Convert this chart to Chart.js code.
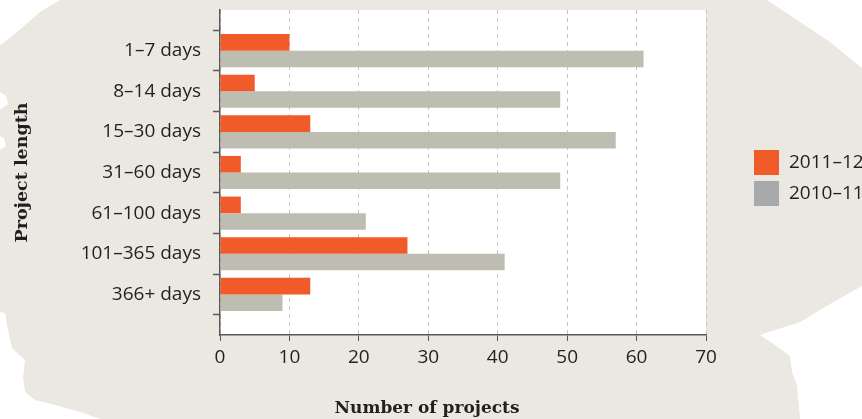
<!DOCTYPE html>
<html>
<head>
<meta charset="utf-8">
<script src="https://cdn.jsdelivr.net/npm/chart.js@4"></script>
<style>
  html, body { margin: 0; padding: 0; background: #fff; }
  #wrap { width: 862px; height: 419px; }
</style>
</head>
<body>
<div id="wrap"><canvas id="myChart" width="862" height="419"></canvas></div>
<script>
// Projetos por duração
const categories = ['1–7 days', '8–14 days', '15–30 days', '31–60 days', '61–100 days', '101–365 days', '366+ days'];
const seriesNames = ['2011–12', '2010–11'];
const values2011 = [10, 5, 13, 3, 3, 27, 13];
const values2010 = [61, 49, 57, 49, 21, 41, 9];
const xTicks = [0, 10, 20, 30, 40, 50, 60, 70];
const xTitle = 'Number of projects';
const yTitle = 'Project length';

const ORANGE = '#f15a29';
const BAR_GREY = '#bdbdb1';
const LEGEND_GREY = '#a7a9ac';
const PAPER = '#ebe8e1';
const INK = '#231f20';
const AXIS = '#58595b';
const TITLE_FONT = 'bold 17px "DejaVu Serif"';

// categorias vazias nas pontas deixam meio espaço em cima e embaixo
const labels = ['', ...categories, ''];
const pad = arr => [null, ...arr, null];

// Fundo de papel rasgado + área do gráfico branca
const paperBackground = {
    id: 'paperBackground',
    beforeDraw(chart) {
        const { ctx, width, height, chartArea } = chart;
        ctx.save();
        ctx.fillStyle = '#fff';
        ctx.fillRect(0, 0, width, height);

        const edge = [
            [60, 0], [767, 0], [800, 22], [830, 42], [862, 68],
            [862, 286], [830, 304], [800, 322], [760, 335], [775, 345],
            [790, 356], [792, 372], [797, 385], [800, 419],
            [100, 419], [80, 412], [55, 405], [35, 400], [25, 392],
            [23, 378], [25, 360], [12, 348], [8, 330], [5, 313],
            [0, 312], [0, 150], [6, 146], [4, 138], [0, 136],
            [0, 110], [8, 104], [6, 96], [0, 92], [0, 45], [10, 38],
            [25, 25], [40, 12]
        ];
        ctx.fillStyle = PAPER;
        ctx.beginPath();
        edge.forEach(([x, y], i) => i ? ctx.lineTo(x, y) : ctx.moveTo(x, y));
        ctx.closePath();
        ctx.fill();

        ctx.fillStyle = '#fff';
        ctx.fillRect(chartArea.left, chartArea.top, chartArea.right - chartArea.left, chartArea.bottom - chartArea.top);
        ctx.restore();
    }
};

// Legenda à direita e título do eixo x
const sideLegend = {
    id: 'sideLegend',
    afterDraw(chart) {
        const { ctx, chartArea } = chart;
        const colors = [ORANGE, LEGEND_GREY];
        const x = chartArea.right + 48;
        let y = chartArea.top + 140;
        ctx.save();
        ctx.font = '19px "Open Sans"';
        ctx.textBaseline = 'middle';
        seriesNames.forEach((name, i) => {
            ctx.fillStyle = colors[i];
            ctx.fillRect(x, y, 25, 25);
            ctx.fillStyle = INK;
            ctx.fillText(name, x + 35, y + 13);
            y += 31;
        });

        ctx.font = TITLE_FONT;
        ctx.textAlign = 'center';
        ctx.textBaseline = 'alphabetic';
        ctx.fillText(xTitle, chart.width / 2 - 4, chartArea.bottom + 78);
        ctx.restore();
    }
};

const ctx = document.getElementById('myChart').getContext('2d');
new Chart(ctx, {
    type: 'bar',
    data: {
        labels,
        datasets: [
            { label: seriesNames[0], data: pad(values2011), backgroundColor: ORANGE },
            { label: seriesNames[1], data: pad(values2010), backgroundColor: BAR_GREY }
        ]
    },
    options: {
        indexAxis: 'y',
        responsive: false,
        animation: false,
        categoryPercentage: 0.815,
        barPercentage: 1,
        layout: { padding: { top: 10, right: 156, bottom: 0, left: 0 } },
        scales: {
            x: {
                min: xTicks[0],
                max: xTicks[xTicks.length - 1],
                afterFit(scale) { scale.height = 84; },
                ticks: {
                    stepSize: xTicks[1] - xTicks[0],
                    color: INK,
                    padding: 5,
                    font: { family: 'Open Sans', size: 19 }
                },
                grid: {
                    color: '#c4c4c4',
                    lineWidth: 1,
                    tickColor: AXIS,
                    tickLength: 6
                },
                border: { color: AXIS, width: 1.5, dash: [4, 4] }
            },
            y: {
                offset: false,
                afterFit(scale) {
                    scale.width = 220;
                    scale.paddingTop = 0;
                    scale.paddingBottom = 0;
                },
                ticks: {
                    color: INK,
                    padding: 12,
                    autoSkip: false,
                    font: { family: 'Open Sans', size: 19 }
                },
                grid: {
                    drawOnChartArea: false,
                    tickColor: AXIS,
                    tickLength: 7,
                    tickWidth: 1.5
                },
                border: { color: AXIS, width: 1.5 },
                title: {
                    display: true,
                    text: yTitle,
                    color: INK,
                    padding: { top: 12, bottom: 0 },
                    font: { family: 'DejaVu Serif', size: 17.5, weight: 'bold' }
                }
            }
        },
        plugins: {
            legend: { display: false },
            tooltip: { enabled: false }
        }
    },
    plugins: [paperBackground, sideLegend]
});
</script>
</body>
</html>
